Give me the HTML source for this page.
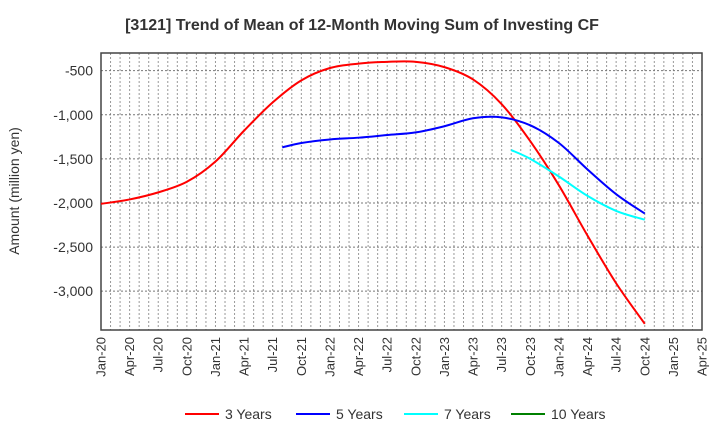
<!DOCTYPE html>
<html><head><meta charset="utf-8"><style>
body{margin:0;background:#fff;font-family:"Liberation Sans",sans-serif;}
svg text{font-family:"Liberation Sans",sans-serif;}
</style></head><body>
<svg id="chart" width="720" height="440" xmlns="http://www.w3.org/2000/svg">
<text x="362" y="30" text-anchor="middle" font-size="16" font-weight="bold" fill="#333">[3121]  Trend of Mean of 12-Month Moving Sum of Investing CF</text>
<text transform="translate(19,191) rotate(-90)" text-anchor="middle" font-size="14" fill="#333">Amount (million yen)</text>
<g id="grid"></g><g id="axes"></g><g id="series"></g><g id="legend"></g>
</svg>
<script>
const xLabels=["Jan-20","Apr-20","Jul-20","Oct-20","Jan-21","Apr-21","Jul-21","Oct-21","Jan-22","Apr-22","Jul-22","Oct-22","Jan-23","Apr-23","Jul-23","Oct-23","Jan-24","Apr-24","Jul-24","Oct-24","Jan-25","Apr-25"];
const yTicks=[-500,-1000,-1500,-2000,-2500,-3000];
const yTickLabels=["-500","-1,000","-1,500","-2,000","-2,500","-3,000"];
const seriesNames=["3 Years","5 Years","7 Years","10 Years"];
const seriesColors=["#ff0000","#0000ff","#00ffff","#008000"];
const s3Start=0;
const s3=[-2010,-1960,-1880,-1760,-1530,-1180,-860,-610,-470,-420,-400,-400,-460,-600,-880,-1300,-1800,-2370,-2910,-3370];
const s5Months=[19,21,24,27,30,33,36,39,42,45,48,51,54,57];
const s5=[-1370,-1320,-1280,-1260,-1230,-1200,-1130,-1040,-1030,-1120,-1320,-1620,-1900,-2120];
const s7Months=[43,45,48,51,54,57];
const s7=[-1400,-1500,-1700,-1920,-2090,-2190];
const s10=[];

const L=101,R=702,T=53,B=330,yMin=-3440,yMax=-300,nMonths=63;
const xS=m=>L+(R-L)*m/nMonths;
const yS=v=>T+(B-T)*(yMax-v)/(yMax-yMin);
const NS="http://www.w3.org/2000/svg";
function mk(tag,attrs,parent){const e=document.createElementNS(NS,tag);for(const k in attrs)e.setAttribute(k,attrs[k]);parent.appendChild(e);return e;}
const grid=document.getElementById('grid'),axes=document.getElementById('axes'),ser=document.getElementById('series'),leg=document.getElementById('legend');
for(let m=1;m<nMonths;m++){const l=mk('line',{x1:xS(m),x2:xS(m),y1:T,y2:B,stroke:'#999','stroke-width':1,'stroke-dasharray':'2,2'},grid);

}
yTicks.forEach((v,i)=>{const l=mk('line',{x1:L,x2:R,y1:yS(v),y2:yS(v),stroke:'#777','stroke-width':1,'stroke-dasharray':'2,2'},grid);


const t=mk('text',{x:L-8,y:yS(v)+5,'text-anchor':'end','font-size':14,fill:'#333'},axes);t.textContent=yTickLabels[i];

});
xLabels.forEach((s,i)=>{const x=xS(i*3);const t=mk('text',{transform:`translate(${x+4.5},${B+7}) rotate(-90)`,'text-anchor':'end','font-size':13,fill:'#333'},axes);t.textContent=s;

});
const fr=mk('rect',{x:L,y:T,width:R-L,height:B-T,fill:'none',stroke:'#444','stroke-width':1.5},axes);


function path(months,vals){const p=months.map((m,i)=>[xS(m),yS(vals[i])]);if(p.length<2)return '';let d=`M${p[0][0]},${p[0][1]}`;
for(let i=0;i<p.length-1;i++){const p0=p[i-1]||p[i],p1=p[i],p2=p[i+1],p3=p[i+2]||p2;
d+=` C${p1[0]+(p2[0]-p0[0])/6},${p1[1]+(p2[1]-p0[1])/6} ${p2[0]-(p3[0]-p1[0])/6},${p2[1]-(p3[1]-p1[1])/6} ${p2[0]},${p2[1]}`;}return d;}
const s3Months=s3.map((_,i)=>s3Start+i*3);
[[s3Months,s3,'line-3-years'],[s5Months,s5,'line-5-years'],[s7Months,s7,'line-7-years']].forEach((s,i)=>{
const p=mk('path',{d:path(s[0],s[1]),fill:'none',stroke:seriesColors[i],'stroke-width':2},ser);

});
const lx=[185,296,404,511];
seriesNames.forEach((n,i)=>{const g=mk('g',{},leg);


mk('line',{x1:lx[i],x2:lx[i]+34,y1:414,y2:414,stroke:seriesColors[i],'stroke-width':2},g);
const t=mk('text',{x:lx[i]+40,y:419,'font-size':14,fill:'#333'},g);t.textContent=n;});
</script>
</body></html>
